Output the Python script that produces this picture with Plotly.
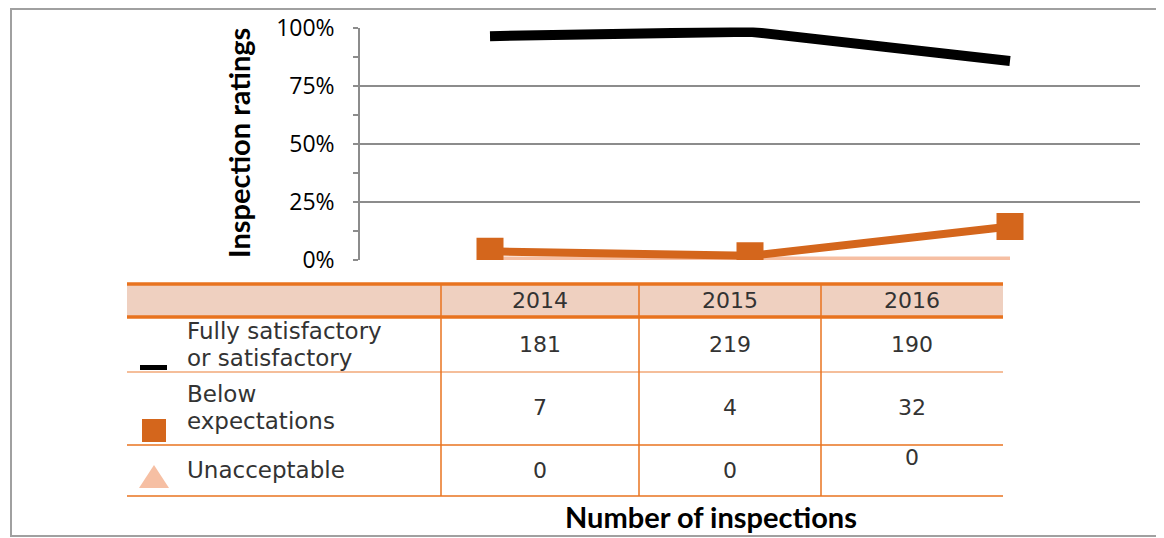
import plotly.graph_objects as go

# ---- data ----
years = ["2014", "2015", "2016"]
label_lines = [["Fully satisfactory", "or satisfactory"], ["Below", "expectations"], ["Unacceptable"]]
fully_satisfactory = [181, 219, 190]
below_expectations = [7, 4, 32]
unacceptable = [0, 0, 0]
y_ticks = [0, 0.25, 0.5, 0.75, 1.0]
y_tick_labels = ["0%", "25%", "50%", "75%", "100%"]

totals = [a + b + c for a, b, c in zip(fully_satisfactory, below_expectations, unacceptable)]
def pct(arr):
    return [v / t for v, t in zip(arr, totals)]

W, H = 1164, 538
OFF = 8  # page body margin
def px(x): return (x - OFF) / W
def py(y): return 1 - (y - OFF) / H

BLACK = "#000000"
ORANGE = "#D4661C"
LIGHT = "#F6BFA3"
TBL = "#E8731F"
TBL_LIGHT = "#F2A878"
GRID = "#8c8c8c"
FONT = "Open Sans"
TFONT = "DejaVu Sans"
BOLD = "Lato"
TXT = "#333333"

x_idx = [0, 1, 2]
fig = go.Figure()
fig.add_trace(go.Scatter(x=x_idx, y=pct(unacceptable), mode="lines",
                         line=dict(color=LIGHT, width=7), name="Unacceptable"))
fig.add_trace(go.Scatter(x=x_idx, y=pct(below_expectations), mode="lines+markers",
                         line=dict(color=ORANGE, width=8),
                         marker=dict(symbol="square", size=27, color=ORANGE),
                         name="Below expectations"))
fig.add_trace(go.Scatter(x=x_idx, y=pct(fully_satisfactory), mode="lines",
                         line=dict(color=BLACK, width=10), name="Fully satisfactory"))

shapes = []
annotations = []

def note(x, y, text, size, family=TFONT, color=TXT, xanchor="center", **kw):
    annotations.append(dict(x=px(x), y=py(y), xref="paper", yref="paper", text=text,
                            showarrow=False, xanchor=xanchor, yanchor="middle",
                            font=dict(family=family, size=size, color=color), **kw))

# outer border
shapes.append(dict(type="rect", xref="paper", yref="paper", x0=px(11), x1=px(1162),
                   y0=py(536), y1=py(9), line=dict(color="#a0a0a0", width=2)))

# table geometry
tx0, tc1, tc2, tc3, tx1 = 127, 441, 639, 821, 1003
ty_top, ty_head, ty_r1, ty_r2, ty_r3 = 284, 317, 372, 445, 496
shapes.append(dict(type="rect", xref="paper", yref="paper", x0=px(tx0), x1=px(tx1),
                   y0=py(ty_head), y1=py(ty_top), fillcolor="#EFD0C0", line=dict(width=0),
                   layer="below"))
for y, w, c in [(ty_top, 3.5, TBL), (ty_head, 3.5, TBL), (ty_r1, 1.5, TBL_LIGHT),
                (ty_r2, 1.5, TBL), (ty_r3, 1.5, TBL)]:
    shapes.append(dict(type="line", xref="paper", yref="paper", x0=px(tx0), x1=px(tx1),
                       y0=py(y), y1=py(y), line=dict(color=c, width=w)))
for x in [tc1, tc2, tc3]:
    shapes.append(dict(type="line", xref="paper", yref="paper", x0=px(x), x1=px(x),
                       y0=py(ty_top), y1=py(ty_r3), line=dict(color=TBL, width=1.5)))

# legend symbols in table
shapes.append(dict(type="rect", xref="paper", yref="paper", x0=px(140), x1=px(167),
                   y0=py(370), y1=py(365), fillcolor=BLACK, line=dict(width=0)))
shapes.append(dict(type="rect", xref="paper", yref="paper", x0=px(142), x1=px(166),
                   y0=py(442), y1=py(419), fillcolor=ORANGE, line=dict(width=0)))
shapes.append(dict(type="path", xref="paper", yref="paper",
                   path=f"M {px(139)},{py(488)} L {px(169)},{py(488)} L {px(154)},{py(465)} Z",
                   fillcolor=LIGHT, line=dict(width=0)))

col_centers = [(tc1 + tc2) / 2, (tc2 + tc3) / 2, (tc3 + tx1) / 2]
for xc, yr in zip(col_centers, years):
    note(xc, 300, yr, 22)

label_line_ys = [[330.5, 357.5], [394, 421], [470]]
for lines, ys in zip(label_line_ys and label_lines, label_line_ys):
    for ln, yl in zip(lines, ys):
        note(185, yl, ln, 23, xanchor="left", align="left")

row_vals = [fully_satisfactory, below_expectations, unacceptable]
value_ys = [344, 407, 470]
for ri, (vals, yl) in enumerate(zip(row_vals, value_ys)):
    for ci, (xc, v) in enumerate(zip(col_centers, vals)):
        yy = 457 if (ri == 2 and ci == 2) else yl
        note(xc, yy, str(v), 22)

note(711, 516, "<b>Number of inspections</b>", 29, family=BOLD, color="#000000")
note(238, 143, "<b>Inspection ratings</b>", 29, family=BOLD, color="#000000", textangle=-90)

fig.update_layout(
    width=W, height=H, autosize=False,
    margin=dict(l=0, r=0, t=0, b=0, pad=0, autoexpand=False),
    paper_bgcolor="white", plot_bgcolor="white",
    showlegend=False,
    shapes=shapes, annotations=annotations,
    xaxis=dict(domain=[px(360), px(1140)], range=[-0.5, 2.5], showticklabels=False,
               showgrid=False, zeroline=False, showline=False, ticks="", automargin=False),
    yaxis=dict(domain=[py(260), py(27.5)], range=[0, 1], tickvals=y_ticks,
               ticktext=y_tick_labels, showgrid=True, gridcolor=GRID, gridwidth=1.5,
               zeroline=False, showline=True, linecolor=GRID, linewidth=1.5,
               ticks="outside", ticklen=5, tickcolor=GRID, tickwidth=1.5,
               ticklabelstandoff=14, automargin=False,
               minor=dict(dtick=0.125, ticks="outside", ticklen=5, tickcolor=GRID,
                          tickwidth=1.5, showgrid=False),
               tickfont=dict(family=FONT, size=23, color="#000000")),
)

fig.write_html("out.html")
